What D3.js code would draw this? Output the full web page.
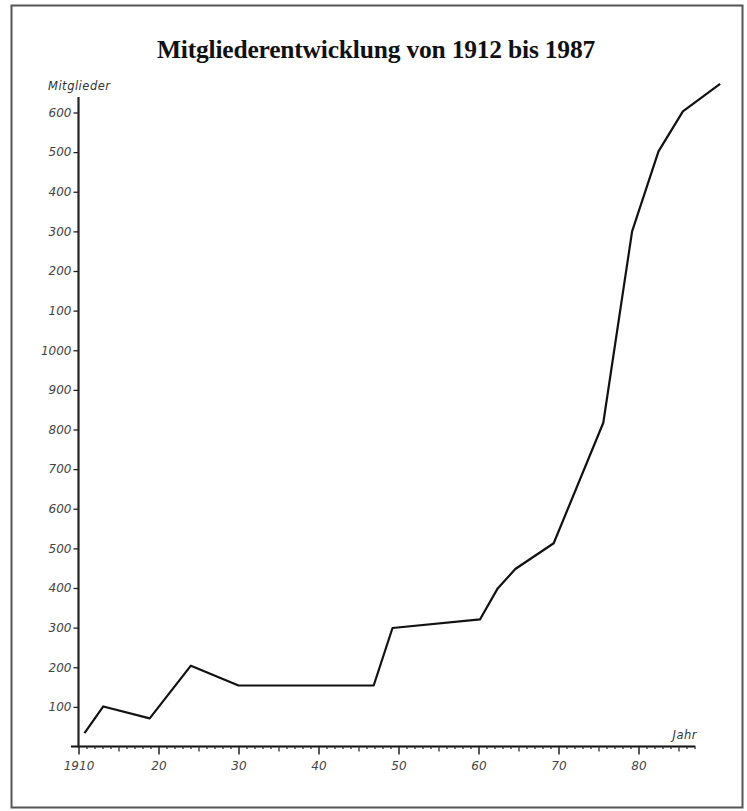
<!DOCTYPE html>
<html>
<head>
<meta charset="utf-8">
<script src="https://cdn.jsdelivr.net/npm/d3@7"></script>
<style>
  html, body { margin: 0; padding: 0; background: #fff; }
  svg { display: block; }
</style>
</head>
<body>
<svg id="chart" width="747" height="811"></svg>
<script>
// Data
const years   = [1910.75, 1913.1, 1918.9, 1924.05, 1930, 1946.9, 1949.25, 1960.2, 1962.4, 1964.6, 1969.4, 1975.6, 1979.2, 1982.5, 1985.55, 1990.2];
const members = [34, 101, 71, 204, 154, 154, 299, 321, 399, 448, 513, 817, 1300, 1502, 1603, 1672];

const yTickValues = [100, 200, 300, 400, 500, 600, 700, 800, 900, 1000, 1100, 1200, 1300, 1400, 1500, 1600];
const yTickLabels = ["100", "200", "300", "400", "500", "600", "700", "800", "900", "1000", "100", "200", "300", "400", "500", "600"];
const xMajorTicks = [1910, 1920, 1930, 1940, 1950, 1960, 1970, 1980];
const xMajorLabels = ["1910", "20", "30", "40", "50", "60", "70", "80"];

const titleText = "Mitgliederentwicklung von 1912 bis 1987";
const yAxisTitle = "Mitglieder";
const xAxisTitle = "Jahr";

const svg = d3.select("#chart");

// frame
svg.append("rect")
  .attr("x", 11.5).attr("y", 5.5)
  .attr("width", 731).attr("height", 802)
  .attr("fill", "none").attr("stroke", "#555").attr("stroke-width", 2);

// title
svg.append("text")
  .attr("x", 376).attr("y", 58)
  .attr("text-anchor", "middle")
  .attr("font-family", "'Liberation Serif', 'Times New Roman', serif")
  .attr("font-weight", "bold")
  .attr("font-size", 25.5)
  .attr("letter-spacing", -0.2)
  .attr("fill", "#111")
  .text(titleText);

const x = d3.scaleLinear().domain([1910, 1990]).range([78.5, 718.5]);
const y = d3.scaleLinear().domain([0, 1600]).range([746.5, 112.5]);

const labelFont = "'DejaVu Sans', sans-serif";

// x axis line
const axisY = y(0);
svg.append("line")
  .attr("x1", 71).attr("x2", x(1987.1))
  .attr("y1", axisY).attr("y2", axisY)
  .attr("stroke", "#111").attr("stroke-width", 2);

// minor yearly ticks
const minorYears = d3.range(1911, 1988).filter(d => d % 5 !== 0);
const gx = svg.append("g").attr("transform", `translate(0,${axisY})`);
gx.call(d3.axisBottom(x).tickValues(minorYears).tickSize(2.5).tickFormat(""))
  .call(g => g.select(".domain").remove())
  .call(g => g.selectAll(".tick line").attr("stroke", "#333").attr("stroke-width", 1.3));
const gx5 = svg.append("g").attr("transform", `translate(0,${axisY})`);
gx5.call(d3.axisBottom(x).tickValues(d3.range(1915, 1988, 10)).tickSize(5).tickFormat(""))
  .call(g => g.select(".domain").remove())
  .call(g => g.selectAll(".tick line").attr("stroke", "#333").attr("stroke-width", 1.3));
const gxM = svg.append("g").attr("transform", `translate(0,${axisY})`);
gxM.call(d3.axisBottom(x).tickValues(xMajorTicks).tickSize(8).tickPadding(7)
    .tickFormat((d, i) => xMajorLabels[i]))
  .call(g => g.select(".domain").remove())
  .call(g => g.selectAll(".tick line").attr("stroke", "#222").attr("stroke-width", 1.5))
  .call(g => g.selectAll(".tick text")
    .attr("font-family", labelFont).attr("font-style", "italic")
    .attr("font-size", 12).attr("fill", "#444"));

// y axis
const gy = svg.append("g").attr("transform", `translate(${x(1910)},0)`);
gy.call(d3.axisLeft(y).tickValues(yTickValues).tickSize(5).tickPadding(2)
    .tickFormat((d, i) => yTickLabels[i]))
  .call(g => g.select(".domain").remove())
  .call(g => g.selectAll(".tick line").attr("stroke", "#222").attr("stroke-width", 1.3))
  .call(g => g.selectAll(".tick text")
    .attr("font-family", labelFont).attr("font-style", "italic")
    .attr("font-size", 12).attr("fill", "#444"));
svg.append("line")
  .attr("x1", x(1910)).attr("x2", x(1910))
  .attr("y1", 97).attr("y2", axisY + 1)
  .attr("stroke", "#222").attr("stroke-width", 2.2);

// axis titles
svg.append("text")
  .attr("x", 48).attr("y", 90)
  .attr("font-family", labelFont).attr("font-style", "italic")
  .attr("font-size", 11.5).attr("letter-spacing", 0.5).attr("fill", "#333")
  .text(yAxisTitle);
svg.append("text")
  .attr("x", 697).attr("y", 739)
  .attr("text-anchor", "end")
  .attr("font-family", labelFont).attr("font-style", "italic")
  .attr("font-size", 11.5).attr("letter-spacing", 0.5).attr("fill", "#333")
  .text(xAxisTitle);

// line
const pts = years.map((d, i) => [d, members[i]]);
svg.append("path")
  .datum(pts)
  .attr("fill", "none")
  .attr("stroke", "#111")
  .attr("stroke-width", 2.2)
  .attr("stroke-linejoin", "round")
  .attr("d", d3.line().x(d => x(d[0])).y(d => y(d[1])));
</script>
</body>
</html>
